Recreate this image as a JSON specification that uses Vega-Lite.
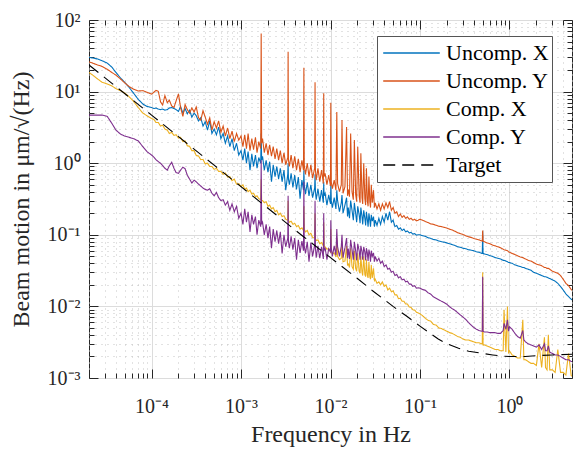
{
"$schema": "https://vega.github.io/schema/vega-lite/v6.json",
"width": 483, "height": 358,
"autosize": "none",
"padding": {"left": 89, "top": 20, "right": 1, "bottom": 76},
"background": "white",
"config": {
  "view": {"stroke": "#262626", "strokeWidth": 1},
  "axis": {"labelFont": "Liberation Serif", "labelFontSize": 20, "labelColor": "#262626", "titleFont": "Liberation Serif", "titleFontSize": 24, "titleFontWeight": "normal", "titleColor": "#262626", "tickColor": "#262626", "tickWidth": 1, "domain": false, "labelOverlap": false, "labelFlush": false}
},
"datasets": {
"meas": [
{"f":2e-5,"a":30,"b":26,"c":18.5,"d":4.7},
{"f":2.2e-5,"a":29.5,"b":25,"c":17,"d":4.7},
{"f":2.5e-5,"a":28.5,"b":23.5,"c":15,"d":4.7},
{"f":2.8e-5,"a":27,"b":22.5,"c":13.5,"d":4.7},
{"f":3.2e-5,"a":25,"b":20.5,"c":12.8,"d":4.5},
{"f":3.6e-5,"a":22,"b":18.5,"c":12,"d":3.6},
{"f":4.0e-5,"a":18.5,"b":17,"c":11,"d":2.9},
{"f":4.5e-5,"a":15.5,"b":15,"c":10.3,"d":2.55},
{"f":5.0e-5,"a":13.5,"b":13.3,"c":9.6,"d":2.4},
{"f":5.6e-5,"a":11.5,"b":11.8,"c":8.5,"d":2.3},
{"f":6.3e-5,"a":9.5,"b":10.8,"c":7.3,"d":2.2},
{"f":7.1e-5,"a":7.8,"b":10.2,"c":6.0,"d":2.05},
{"f":8.0e-5,"a":6.7,"b":10.3,"c":5.0,"d":1.7},
{"f":8.9e-5,"a":6.2,"b":9.8,"c":4.6,"d":1.45},
{"f":1.00e-4,"a":6.0,"b":9.2,"c":4.2,"d":1.30},
{"f":1.06e-4,"a":5.8,"b":9.8,"c":4.1,"d":1.22},
{"f":1.12e-4,"a":5.9,"b":10.4,"c":3.7,"d":1.12},
{"f":1.19e-4,"a":5.7,"b":10.1,"c":3.7,"d":1.05},
{"f":1.26e-4,"a":5.6,"b":7.2,"c":3.3,"d":1.0},
{"f":1.33e-4,"a":5.7,"b":6.5,"c":3.4,"d":0.93},
{"f":1.41e-4,"a":5.5,"b":8.8,"c":3.0,"d":0.85},
{"f":1.50e-4,"a":5.6,"b":7.0,"c":2.9,"d":0.80},
{"f":1.58e-4,"a":5.9,"b":7.6,"c":2.6,"d":0.92},
{"f":1.68e-4,"a":6.0,"b":6.3,"c":2.7,"d":1.03},
{"f":1.78e-4,"a":5.8,"b":6.0,"c":2.45,"d":0.85},
{"f":1.88e-4,"a":5.6,"b":7.4,"c":2.5,"d":0.74},
{"f":2.00e-4,"a":5.3,"b":9.3,"c":2.25,"d":0.72},
{"f":2.11e-4,"a":6.2,"b":6.0,"c":2.3,"d":0.80},
{"f":2.24e-4,"a":5.0,"b":4.5,"c":2.0,"d":0.88},
{"f":2.37e-4,"a":5.8,"b":6.6,"c":2.05,"d":0.84},
{"f":2.51e-4,"a":4.9,"b":5.6,"c":1.75,"d":0.68},
{"f":2.66e-4,"a":5.5,"b":5.0,"c":1.72,"d":0.60},
{"f":2.82e-4,"a":4.4,"b":5.9,"c":1.5,"d":0.53},
{"f":2.99e-4,"a":5.0,"b":5.2,"c":1.5,"d":0.58},
{"f":3.16e-4,"a":4.6,"b":6.1,"c":1.28,"d":0.55},
{"f":3.35e-4,"a":3.9,"b":4.3,"c":1.26,"d":0.51},
{"f":3.55e-4,"a":4.3,"b":4.0,"c":1.12,"d":0.48},
{"f":3.76e-4,"a":3.3,"b":5.4,"c":1.13,"d":0.45},
{"f":3.98e-4,"a":3.8,"b":4.4,"c":0.98,"d":0.43},
{"f":4.22e-4,"a":2.9,"b":3.5,"c":1.0,"d":0.42},
{"f":4.47e-4,"a":3.9,"b":4.3,"c":0.9,"d":0.44},
{"f":4.73e-4,"a":2.6,"b":2.9,"c":0.9,"d":0.38},
{"f":5.01e-4,"a":3.0,"b":3.8,"c":0.82,"d":0.35},
{"f":5.31e-4,"a":2.5,"b":3.1,"c":0.85,"d":0.39},
{"f":5.62e-4,"a":3.2,"b":3.9,"c":0.77,"d":0.33},
{"f":5.96e-4,"a":2.2,"b":2.7,"c":0.77,"d":0.30},
{"f":6.31e-4,"a":2.6,"b":3.3,"c":0.7,"d":0.31},
{"f":6.68e-4,"a":1.9,"b":2.4,"c":0.73,"d":0.26},
{"f":7.08e-4,"a":2.4,"b":3.1,"c":0.64,"d":0.29},
{"f":7.50e-4,"a":1.7,"b":2.2,"c":0.65,"d":0.22},
{"f":7.94e-4,"a":2.2,"b":2.8,"c":0.57,"d":0.27},
{"f":8.41e-4,"a":1.5,"b":2.0,"c":0.6,"d":0.21},
{"f":8.91e-4,"a":1.9,"b":2.6,"c":0.51,"d":0.25},
{"f":9.44e-4,"a":1.3,"b":2.1,"c":0.52,"d":0.17},
{"f":0.001,"a":1.5,"b":2.4,"c":0.47,"d":0.20},
{"f":0.00105,"a":1.1,"b":1.7,"c":0.5,"d":0.14},
{"f":0.0011,"a":1.6,"b":2.5,"c":0.43,"d":0.23},
{"f":0.00115,"a":1.0,"b":1.6,"c":0.45,"d":0.15},
{"f":0.0012,"a":1.45,"b":2.6,"c":0.4,"d":0.21},
{"f":0.00126,"a":0.8,"b":1.5,"c":0.42,"d":0.11},
{"f":0.00132,"a":1.35,"b":2.2,"c":0.37,"d":0.19},
{"f":0.00138,"a":0.9,"b":1.55,"c":0.38,"d":0.14},
{"f":0.00145,"a":1.3,"b":2.3,"c":0.34,"d":0.18},
{"f":0.00151,"a":0.85,"b":1.4,"c":0.35,"d":0.1},
{"f":0.00158,"a":1.2,"b":2.0,"c":0.32,"d":0.16},
{"f":0.00166,"a":1.0,"b":1.6,"c":0.31,"d":0.13},
{"f":0.00168,"a":2.6,"b":65,"c":0.6,"d":1.1},
{"f":0.0017,"a":1.1,"b":1.9,"c":0.3,"d":0.14},
{"f":0.00174,"a":1.25,"b":2.2,"c":0.3,"d":0.15},
{"f":0.00182,"a":0.8,"b":1.4,"c":0.28,"d":0.1},
{"f":0.00191,"a":1.1,"b":1.9,"c":0.29,"d":0.14},
{"f":0.002,"a":0.75,"b":1.3,"c":0.25,"d":0.09},
{"f":0.00209,"a":1.05,"b":1.8,"c":0.26,"d":0.13},
{"f":0.00219,"a":0.55,"b":1.25,"c":0.23,"d":0.065},
{"f":0.00229,"a":0.95,"b":1.7,"c":0.24,"d":0.12},
{"f":0.0024,"a":0.65,"b":1.15,"c":0.21,"d":0.08},
{"f":0.00251,"a":0.9,"b":1.6,"c":0.22,"d":0.115},
{"f":0.00263,"a":0.6,"b":1.1,"c":0.19,"d":0.075},
{"f":0.00275,"a":0.85,"b":1.5,"c":0.2,"d":0.11},
{"f":0.00288,"a":0.55,"b":1.0,"c":0.18,"d":0.055},
{"f":0.00302,"a":0.8,"b":1.4,"c":0.185,"d":0.1},
{"f":0.00316,"a":0.42,"b":0.95,"c":0.165,"d":0.068},
{"f":0.00333,"a":0.7,"b":1.2,"c":0.16,"d":0.09},
{"f":0.00336,"a":1.0,"b":36,"c":0.3,"d":0.35},
{"f":0.00339,"a":0.6,"b":1.1,"c":0.16,"d":0.08},
{"f":0.00347,"a":0.5,"b":0.9,"c":0.15,"d":0.065},
{"f":0.00363,"a":0.72,"b":1.3,"c":0.155,"d":0.095},
{"f":0.0038,"a":0.46,"b":0.85,"c":0.14,"d":0.062},
{"f":0.00398,"a":0.68,"b":1.25,"c":0.145,"d":0.09},
{"f":0.00417,"a":0.43,"b":0.8,"c":0.13,"d":0.045},
{"f":0.00437,"a":0.64,"b":1.15,"c":0.135,"d":0.085},
{"f":0.00457,"a":0.32,"b":0.75,"c":0.12,"d":0.056},
{"f":0.00479,"a":0.58,"b":1.1,"c":0.125,"d":0.082},
{"f":0.00499,"a":0.42,"b":0.8,"c":0.115,"d":0.06},
{"f":0.00504,"a":0.8,"b":21.5,"c":0.25,"d":0.55},
{"f":0.00509,"a":0.5,"b":0.95,"c":0.12,"d":0.07},
{"f":0.00525,"a":0.37,"b":0.7,"c":0.11,"d":0.055},
{"f":0.0055,"a":0.54,"b":1.0,"c":0.115,"d":0.08},
{"f":0.00575,"a":0.35,"b":0.65,"c":0.1,"d":0.042},
{"f":0.00603,"a":0.5,"b":0.95,"c":0.105,"d":0.078},
{"f":0.00631,"a":0.33,"b":0.62,"c":0.092,"d":0.05},
{"f":0.00665,"a":0.45,"b":0.85,"c":0.09,"d":0.072},
{"f":0.00672,"a":0.7,"b":13.5,"c":0.2,"d":0.3},
{"f":0.00679,"a":0.4,"b":0.8,"c":0.088,"d":0.065},
{"f":0.00692,"a":0.31,"b":0.58,"c":0.083,"d":0.048},
{"f":0.00724,"a":0.44,"b":0.85,"c":0.085,"d":0.07},
{"f":0.00759,"a":0.29,"b":0.55,"c":0.075,"d":0.047},
{"f":0.00794,"a":0.42,"b":0.8,"c":0.078,"d":0.068},
{"f":0.00832,"a":0.28,"b":0.52,"c":0.07,"d":0.046},
{"f":0.0084,"a":0.55,"b":9.5,"c":0.15,"d":0.2},
{"f":0.00848,"a":0.35,"b":0.65,"c":0.07,"d":0.06},
{"f":0.00871,"a":0.38,"b":0.72,"c":0.068,"d":0.066},
{"f":0.00912,"a":0.26,"b":0.5,"c":0.063,"d":0.045},
{"f":0.00955,"a":0.36,"b":0.68,"c":0.064,"d":0.064},
{"f":0.01,"a":0.27,"b":0.48,"c":0.058,"d":0.058},
{"f":0.01008,"a":0.5,"b":7.0,"c":0.12,"d":0.16},
{"f":0.0102,"a":0.3,"b":0.55,"c":0.06,"d":0.066},
{"f":0.0105,"a":0.24,"b":0.44,"c":0.054,"d":0.05},
{"f":0.011,"a":0.33,"b":0.58,"c":0.056,"d":0.07},
{"f":0.0115,"a":0.23,"b":0.42,"c":0.049,"d":0.052},
{"f":0.01176,"a":0.42,"b":5.2,"c":0.09,"d":0.12},
{"f":0.012,"a":0.3,"b":0.52,"c":0.05,"d":0.068},
{"f":0.0126,"a":0.21,"b":0.4,"c":0.045,"d":0.05},
{"f":0.0132,"a":0.28,"b":0.5,"c":0.047,"d":0.069},
{"f":0.01344,"a":0.36,"b":4.0,"c":0.08,"d":0.1},
{"f":0.0138,"a":0.2,"b":0.38,"c":0.042,"d":0.048},
{"f":0.0145,"a":0.26,"b":0.47,"c":0.043,"d":0.066},
{"f":0.01512,"a":0.33,"b":3.2,"c":0.07,"d":0.09},
{"f":0.0155,"a":0.18,"b":0.35,"c":0.038,"d":0.047},
{"f":0.0158,"a":0.24,"b":0.43,"c":0.039,"d":0.064},
{"f":0.0163,"a":0.17,"b":0.34,"c":0.035,"d":0.046},
{"f":0.0168,"a":0.3,"b":2.6,"c":0.065,"d":0.085},
{"f":0.0174,"a":0.22,"b":0.4,"c":0.036,"d":0.062},
{"f":0.018,"a":0.16,"b":0.31,"c":0.033,"d":0.045},
{"f":0.01848,"a":0.28,"b":2.1,"c":0.06,"d":0.08},
{"f":0.0191,"a":0.2,"b":0.37,"c":0.034,"d":0.06},
{"f":0.0196,"a":0.15,"b":0.29,"c":0.031,"d":0.044},
{"f":0.02016,"a":0.25,"b":1.7,"c":0.055,"d":0.075},
{"f":0.0209,"a":0.19,"b":0.35,"c":0.031,"d":0.06},
{"f":0.0214,"a":0.145,"b":0.28,"c":0.029,"d":0.045},
{"f":0.02184,"a":0.24,"b":1.38,"c":0.05,"d":0.07},
{"f":0.0225,"a":0.18,"b":0.33,"c":0.03,"d":0.058},
{"f":0.0229,"a":0.14,"b":0.27,"c":0.027,"d":0.045},
{"f":0.02352,"a":0.22,"b":1.0,"c":0.05,"d":0.068},
{"f":0.0242,"a":0.17,"b":0.32,"c":0.028,"d":0.057},
{"f":0.0247,"a":0.135,"b":0.26,"c":0.026,"d":0.044},
{"f":0.0252,"a":0.21,"b":0.85,"c":0.045,"d":0.065},
{"f":0.0258,"a":0.165,"b":0.3,"c":0.027,"d":0.056},
{"f":0.0263,"a":0.13,"b":0.25,"c":0.025,"d":0.043},
{"f":0.02688,"a":0.2,"b":0.65,"c":0.042,"d":0.062},
{"f":0.0275,"a":0.16,"b":0.29,"c":0.026,"d":0.054},
{"f":0.028,"a":0.13,"b":0.24,"c":0.024,"d":0.042},
{"f":0.02856,"a":0.19,"b":0.5,"c":0.038,"d":0.06},
{"f":0.0293,"a":0.155,"b":0.28,"c":0.025,"d":0.05},
{"f":0.03024,"a":0.18,"b":0.42,"c":0.034,"d":0.056},
{"f":0.031,"a":0.13,"b":0.24,"c":0.023,"d":0.042},
{"f":0.0316,"a":0.16,"b":0.28,"c":0.024,"d":0.05},
{"f":0.0331,"a":0.135,"b":0.23,"c":0.021,"d":0.043},
{"f":0.0347,"a":0.17,"b":0.27,"c":0.022,"d":0.047},
{"f":0.0363,"a":0.14,"b":0.22,"c":0.02,"d":0.04},
{"f":0.038,"a":0.18,"b":0.27,"c":0.022,"d":0.043},
{"f":0.0398,"a":0.15,"b":0.23,"c":0.019,"d":0.036},
{"f":0.0417,"a":0.2,"b":0.28,"c":0.02,"d":0.038},
{"f":0.0437,"a":0.16,"b":0.24,"c":0.017,"d":0.033},
{"f":0.0457,"a":0.21,"b":0.29,"c":0.018,"d":0.034},
{"f":0.0479,"a":0.15,"b":0.22,"c":0.016,"d":0.03},
{"f":0.0501,"a":0.16,"b":0.24,"c":0.0165,"d":0.031},
{"f":0.0525,"a":0.13,"b":0.2,"c":0.0145,"d":0.027},
{"f":0.055,"a":0.135,"b":0.21,"c":0.0145,"d":0.028},
{"f":0.0575,"a":0.12,"b":0.18,"c":0.0128,"d":0.025},
{"f":0.0603,"a":0.125,"b":0.195,"c":0.013,"d":0.026},
{"f":0.0631,"a":0.115,"b":0.175,"c":0.0118,"d":0.0235},
{"f":0.0661,"a":0.12,"b":0.185,"c":0.0118,"d":0.024},
{"f":0.0692,"a":0.11,"b":0.17,"c":0.0108,"d":0.022},
{"f":0.0724,"a":0.113,"b":0.178,"c":0.0108,"d":0.0225},
{"f":0.0759,"a":0.106,"b":0.165,"c":0.0098,"d":0.0205},
{"f":0.0794,"a":0.108,"b":0.17,"c":0.0097,"d":0.0205},
{"f":0.0832,"a":0.102,"b":0.16,"c":0.009,"d":0.019},
{"f":0.0871,"a":0.104,"b":0.165,"c":0.0089,"d":0.0195},
{"f":0.0912,"a":0.099,"b":0.157,"c":0.0083,"d":0.018},
{"f":0.0955,"a":0.1,"b":0.16,"c":0.0081,"d":0.0182},
{"f":0.1,"a":0.1,"b":0.165,"c":0.0079,"d":0.018},
{"f":0.107,"a":0.097,"b":0.16,"c":0.0074,"d":0.0172},
{"f":0.115,"a":0.095,"b":0.153,"c":0.0068,"d":0.0168},
{"f":0.123,"a":0.091,"b":0.148,"c":0.0064,"d":0.0155},
{"f":0.132,"a":0.089,"b":0.142,"c":0.0062,"d":0.0148},
{"f":0.141,"a":0.086,"b":0.14,"c":0.0056,"d":0.0136},
{"f":0.151,"a":0.085,"b":0.136,"c":0.0055,"d":0.013},
{"f":0.162,"a":0.082,"b":0.132,"c":0.005,"d":0.0124},
{"f":0.174,"a":0.08,"b":0.13,"c":0.0049,"d":0.0118},
{"f":0.186,"a":0.079,"b":0.127,"c":0.0047,"d":0.0113},
{"f":0.2,"a":0.077,"b":0.124,"c":0.0045,"d":0.0107},
{"f":0.214,"a":0.075,"b":0.12,"c":0.0043,"d":0.0099},
{"f":0.229,"a":0.073,"b":0.117,"c":0.0042,"d":0.0093},
{"f":0.246,"a":0.071,"b":0.112,"c":0.004,"d":0.0088},
{"f":0.263,"a":0.068,"b":0.107,"c":0.0038,"d":0.0082},
{"f":0.282,"a":0.067,"b":0.104,"c":0.0037,"d":0.0076},
{"f":0.302,"a":0.065,"b":0.101,"c":0.0035,"d":0.0071},
{"f":0.324,"a":0.064,"b":0.097,"c":0.0034,"d":0.0066},
{"f":0.347,"a":0.062,"b":0.094,"c":0.0034,"d":0.006},
{"f":0.372,"a":0.061,"b":0.092,"c":0.0033,"d":0.0055},
{"f":0.398,"a":0.06,"b":0.089,"c":0.0032,"d":0.0051},
{"f":0.427,"a":0.058,"b":0.087,"c":0.0031,"d":0.0048},
{"f":0.457,"a":0.057,"b":0.085,"c":0.0031,"d":0.0046},
{"f":0.49,"a":0.055,"b":0.082,"c":0.003,"d":0.0045},
{"f":0.497,"a":0.055,"b":0.082,"c":0.003,"d":0.0045},
{"f":0.502,"a":0.11,"b":0.115,"c":0.03,"d":0.026},
{"f":0.507,"a":0.055,"b":0.081,"c":0.0029,"d":0.0045},
{"f":0.525,"a":0.054,"b":0.08,"c":0.0029,"d":0.0044},
{"f":0.562,"a":0.053,"b":0.077,"c":0.0028,"d":0.0044},
{"f":0.603,"a":0.051,"b":0.075,"c":0.0027,"d":0.0043},
{"f":0.646,"a":0.05,"b":0.072,"c":0.0026,"d":0.0043},
{"f":0.692,"a":0.048,"b":0.07,"c":0.0025,"d":0.0043},
{"f":0.741,"a":0.047,"b":0.068,"c":0.0025,"d":0.0042},
{"f":0.794,"a":0.046,"b":0.066,"c":0.0024,"d":0.0042},
{"f":0.851,"a":0.044,"b":0.063,"c":0.0024,"d":0.0046},
{"f":0.87,"a":0.044,"b":0.062,"c":0.009,"d":0.0058},
{"f":0.912,"a":0.043,"b":0.061,"c":0.0023,"d":0.0048},
{"f":0.95,"a":0.042,"b":0.06,"c":0.01,"d":0.0065},
{"f":0.977,"a":0.041,"b":0.058,"c":0.0022,"d":0.0045},
{"f":1.0,"a":0.041,"b":0.057,"c":0.0024,"d":0.0052},
{"f":1.07,"a":0.04,"b":0.055,"c":0.0021,"d":0.0048},
{"f":1.15,"a":0.038,"b":0.053,"c":0.002,"d":0.0042},
{"f":1.23,"a":0.037,"b":0.051,"c":0.0019,"d":0.0038},
{"f":1.32,"a":0.036,"b":0.049,"c":0.0019,"d":0.0036},
{"f":1.41,"a":0.035,"b":0.048,"c":0.0065,"d":0.0046},
{"f":1.45,"a":0.035,"b":0.047,"c":0.0018,"d":0.0034},
{"f":1.51,"a":0.034,"b":0.046,"c":0.0018,"d":0.0032},
{"f":1.62,"a":0.033,"b":0.044,"c":0.0017,"d":0.003},
{"f":1.74,"a":0.032,"b":0.043,"c":0.0016,"d":0.0029},
{"f":1.86,"a":0.03,"b":0.041,"c":0.0016,"d":0.0028},
{"f":2.0,"a":0.029,"b":0.039,"c":0.0015,"d":0.0027},
{"f":2.14,"a":0.028,"b":0.038,"c":0.003,"d":0.0029},
{"f":2.29,"a":0.027,"b":0.037,"c":0.0014,"d":0.0025},
{"f":2.46,"a":0.026,"b":0.035,"c":0.0037,"d":0.003},
{"f":2.53,"a":0.026,"b":0.035,"c":0.0014,"d":0.0024},
{"f":2.63,"a":0.0255,"b":0.034,"c":0.0013,"d":0.0024},
{"f":2.72,"a":0.025,"b":0.034,"c":0.004,"d":0.0028},
{"f":2.82,"a":0.0245,"b":0.033,"c":0.0013,"d":0.0023},
{"f":3.02,"a":0.0235,"b":0.031,"c":0.0013,"d":0.0022},
{"f":3.24,"a":0.0225,"b":0.03,"c":0.0012,"d":0.0021},
{"f":3.47,"a":0.021,"b":0.029,"c":0.0025,"d":0.0021},
{"f":3.72,"a":0.019,"b":0.027,"c":0.0012,"d":0.002},
{"f":3.98,"a":0.017,"b":0.024,"c":0.0012,"d":0.0019},
{"f":4.27,"a":0.015,"b":0.021,"c":0.0011,"d":0.0018},
{"f":4.57,"a":0.0137,"b":0.0195,"c":0.0022,"d":0.0018},
{"f":4.9,"a":0.0126,"b":0.0172,"c":0.00108,"d":0.0017},
{"f":5.0,"a":0.0123,"b":0.0168,"c":0.00106,"d":0.0017}
],
"target": [
{"f":2e-5,"v":23.5,"s":"t"},{"f":3e-5,"v":15.7,"s":"t"},{"f":5e-5,"v":9.4,"s":"t"},{"f":1e-4,"v":4.7,"s":"t"},
{"f":2e-4,"v":2.35,"s":"t"},{"f":5e-4,"v":0.94,"s":"t"},{"f":0.001,"v":0.47,"s":"t"},{"f":0.002,"v":0.235,"s":"t"},
{"f":0.005,"v":0.094,"s":"t"},{"f":0.01,"v":0.048,"s":"t"},{"f":0.02,"v":0.0245,"s":"t"},{"f":0.03,"v":0.0163,"s":"t"},
{"f":0.04,"v":0.0124,"s":"t"},{"f":0.05,"v":0.01,"s":"t"},{"f":0.07,"v":0.0074,"s":"t"},{"f":0.1,"v":0.0053,"s":"t"},
{"f":0.13,"v":0.0042,"s":"t"},{"f":0.16,"v":0.0035,"s":"t"},{"f":0.2,"v":0.003,"s":"t"},{"f":0.27,"v":0.0026,"s":"t"},
{"f":0.35,"v":0.00237,"s":"t"},{"f":0.48,"v":0.00222,"s":"t"},{"f":0.65,"v":0.0021,"s":"t"},{"f":0.8,"v":0.00203,"s":"t"},
{"f":1.0,"v":0.002,"s":"t"},{"f":1.5,"v":0.002,"s":"t"},{"f":2.0,"v":0.00205,"s":"t"},{"f":3.0,"v":0.0021,"s":"t"},{"f":5.0,"v":0.00215,"s":"t"}
]
},
"resolve": {"axis": {"x": "independent", "y": "independent"}},
"layer": [
{
  "data": {"name": "meas"},
  "transform": [{"fold": ["a", "b", "c", "d"], "as": ["s", "v"]}],
  "mark": {"type": "line", "strokeWidth": 1.1, "clip": true},
  "encoding": {
    "x": {"field": "f", "type": "quantitative", "scale": {"type": "log", "domain": [2e-5, 5], "nice": false},
      "axis": {"orient": "bottom", "values": [0.00002,0.00003,0.00004,0.00005,0.00006,0.00007,0.00008,0.00009,0.0001,0.0002,0.0003,0.0004,0.0005,0.0006,0.0007,0.0008,0.0009,0.001,0.002,0.003,0.004,0.005,0.006,0.007,0.008,0.009,0.01,0.02,0.03,0.04,0.05,0.06,0.07,0.08,0.09,0.1,0.2,0.3,0.4,0.5,0.6,0.7,0.8,0.9,1,2,3,4,5],
        "labelExpr": "datum.value==0.0001?'10⁻⁴':datum.value==0.001?'10⁻³':datum.value==0.01?'10⁻²':datum.value==0.1?'10⁻¹':datum.value==1?'10⁰':''",
        "ticks": false, "labelPadding": 18, "grid": true,
        "gridColor": {"condition": {"test": "indexof([0.0001,0.001,0.01,0.1,1],datum.value)>=0", "value": "#dcdcdc"}, "value": "#c4c4c4"},
        "gridDash": {"condition": {"test": "indexof([0.0001,0.001,0.01,0.1,1],datum.value)>=0", "value": []}, "value": [1, 5]},
        "title": "Frequency in Hz", "titlePadding": 6}},
    "y": {"field": "v", "type": "quantitative", "scale": {"type": "log", "domain": [0.001, 100], "nice": false},
      "axis": {"orient": "left", "values": [0.001,0.002,0.003,0.004,0.005,0.006,0.007,0.008,0.009,0.01,0.02,0.03,0.04,0.05,0.06,0.07,0.08,0.09,0.1,0.2,0.3,0.4,0.5,0.6,0.7,0.8,0.9,1,2,3,4,5,6,7,8,9,10,20,30,40,50,60,70,80,90,100],
        "labelExpr": "datum.value==0.001?'10⁻³':datum.value==0.01?'10⁻²':datum.value==0.1?'10⁻¹':datum.value==1?'10⁰':datum.value==10?'10¹':datum.value==100?'10²':''",
        "ticks": false, "labelPadding": 9, "grid": true,
        "gridColor": {"condition": {"test": "indexof([0.001,0.01,0.1,1,10,100],datum.value)>=0", "value": "#dcdcdc"}, "value": "#c4c4c4"},
        "gridDash": {"condition": {"test": "indexof([0.001,0.01,0.1,1,10,100],datum.value)>=0", "value": []}, "value": [1, 5]},
        "title": "Beam motion in μm/√(Hz)", "titlePadding": 14}},
    "color": {"field": "s", "type": "nominal",
      "scale": {"domain": ["a", "b", "c", "d", "t"], "range": ["#0072BD", "#D95319", "#EDB120", "#7E2F8E", "#000000"]},
      "legend": {"orient": "none", "legendX": 288, "legendY": 16, "title": null, "symbolType": "stroke", "symbolSize": 3200, "symbolStrokeWidth": 1.5, "symbolOffset": 2,
        "labelFont": "Liberation Serif", "labelFontSize": 22, "labelColor": "#000000", "labelOffset": 5, "labelLimit": 0,
        "labelExpr": "datum.label=='a'?'Uncomp. X':datum.label=='b'?'Uncomp. Y':datum.label=='c'?'Comp. X':datum.label=='d'?'Comp. Y':'Target'",
        "fillColor": "white", "strokeColor": "#555555", "padding": 3, "rowPadding": 0, "clipHeight": 28}},
    "strokeDash": {"field": "s", "type": "nominal",
      "scale": {"domain": ["a", "b", "c", "d", "t"], "range": [[1, 0], [1, 0], [1, 0], [1, 0], [12, 7]]},
      "legend": {"orient": "none", "legendX": 288, "legendY": 16, "title": null, "symbolType": "stroke", "symbolSize": 3200, "symbolStrokeWidth": 1.5, "symbolOffset": 2,
        "labelFont": "Liberation Serif", "labelFontSize": 22, "labelColor": "#000000", "labelOffset": 5, "labelLimit": 0,
        "labelExpr": "datum.label=='a'?'Uncomp. X':datum.label=='b'?'Uncomp. Y':datum.label=='c'?'Comp. X':datum.label=='d'?'Comp. Y':'Target'",
        "fillColor": "white", "strokeColor": "#555555", "padding": 3, "rowPadding": 0, "clipHeight": 28}}
  }
},
{
  "data": {"name": "target"},
  "mark": {"type": "line", "strokeWidth": 1.1, "clip": true},
  "encoding": {
    "x": {"field": "f", "type": "quantitative",
      "axis": {"orient": "top", "values": [0.00002,0.00003,0.00004,0.00005,0.00006,0.00007,0.00008,0.00009,0.0001,0.0002,0.0003,0.0004,0.0005,0.0006,0.0007,0.0008,0.0009,0.001,0.002,0.003,0.004,0.005,0.006,0.007,0.008,0.009,0.01,0.02,0.03,0.04,0.05,0.06,0.07,0.08,0.09,0.1,0.2,0.3,0.4,0.5,0.6,0.7,0.8,0.9,1,2,3,4,5],
        "labels": false, "grid": false, "title": null,
        "tickSize": {"condition": {"test": "indexof([0.0001,0.001,0.01,0.1,1],datum.value)>=0", "value": -9}, "value": -5}}},
    "y": {"field": "v", "type": "quantitative",
      "axis": {"orient": "right", "values": [0.001,0.002,0.003,0.004,0.005,0.006,0.007,0.008,0.009,0.01,0.02,0.03,0.04,0.05,0.06,0.07,0.08,0.09,0.1,0.2,0.3,0.4,0.5,0.6,0.7,0.8,0.9,1,2,3,4,5,6,7,8,9,10,20,30,40,50,60,70,80,90,100],
        "labels": false, "grid": false, "title": null,
        "tickSize": {"condition": {"test": "indexof([0.001,0.01,0.1,1,10,100],datum.value)>=0", "value": -9}, "value": -5}}},
    "color": {"field": "s", "type": "nominal"},
    "strokeDash": {"field": "s", "type": "nominal"}
  }
},
{
  "data": {"name": "target"},
  "mark": {"type": "line", "opacity": 0},
  "encoding": {
    "x": {"field": "f", "type": "quantitative",
      "axis": {"orient": "bottom", "values": [0.00002,0.00003,0.00004,0.00005,0.00006,0.00007,0.00008,0.00009,0.0001,0.0002,0.0003,0.0004,0.0005,0.0006,0.0007,0.0008,0.0009,0.001,0.002,0.003,0.004,0.005,0.006,0.007,0.008,0.009,0.01,0.02,0.03,0.04,0.05,0.06,0.07,0.08,0.09,0.1,0.2,0.3,0.4,0.5,0.6,0.7,0.8,0.9,1,2,3,4,5],
        "labels": false, "grid": false, "title": null,
        "tickSize": {"condition": {"test": "indexof([0.0001,0.001,0.01,0.1,1],datum.value)>=0", "value": -9}, "value": -5}}},
    "y": {"field": "v", "type": "quantitative",
      "axis": {"orient": "left", "values": [0.001,0.002,0.003,0.004,0.005,0.006,0.007,0.008,0.009,0.01,0.02,0.03,0.04,0.05,0.06,0.07,0.08,0.09,0.1,0.2,0.3,0.4,0.5,0.6,0.7,0.8,0.9,1,2,3,4,5,6,7,8,9,10,20,30,40,50,60,70,80,90,100],
        "labels": false, "grid": false, "title": null,
        "tickSize": {"condition": {"test": "indexof([0.001,0.01,0.1,1,10,100],datum.value)>=0", "value": -9}, "value": -5}}}
  }
}
]
}
